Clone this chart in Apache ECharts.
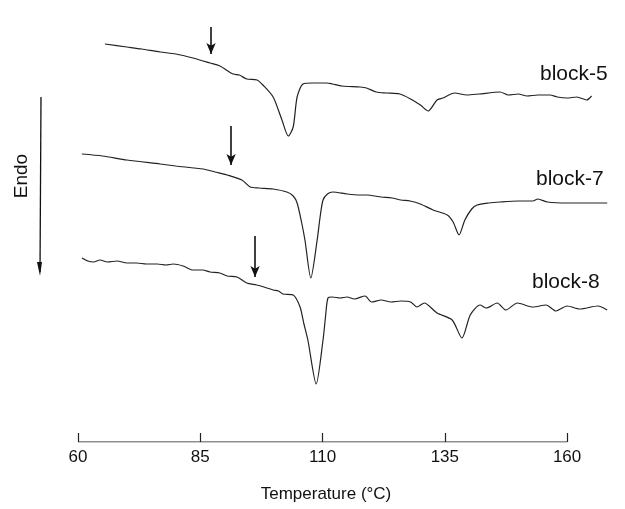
<!DOCTYPE html>
<html><head><meta charset="utf-8">
<script src="https://cdn.jsdelivr.net/npm/echarts@6/dist/echarts.min.js"></script>
<style>html,body{margin:0;padding:0;background:#fff}#c{width:625px;height:509px}</style>
</head><body><div id="c"></div>
<script>
var tickValues = [60, 85, 110, 135, 160];
var seriesNames = ['block-5', 'block-7', 'block-8'];
var block5 = [[65.5,398],[70,395],[73,393],[76.8,390],[80,388],[83.5,384],[87,379],[89,376],[91.7,368],[93,367],[94.5,363],[96.6,362],[97.8,357],[99.9,345],[101.7,322],[103,306],[104,315],[104.8,345],[106,358],[108,359],[110.9,359],[112,358],[114,356],[117.7,355],[119,354],[121,350],[123,349],[125.8,348],[128,343],[130,337],[131.6,331],[133.4,342],[134.6,344],[137,349],[139.5,347],[142,348],[146.3,350],[148,347],[150,348],[151.8,346],[154,347],[156.5,347],[158,345],[160,344],[162,345],[164,342],[165,346]];
var block7 = [[60.8,288],[65,286],[70,282],[76.8,278],[80,276],[85.6,273],[88,270],[90.5,267],[93.5,262],[95.2,255],[97,254],[99.9,253],[102.7,250],[104,246],[104.8,239],[105.7,220],[106.4,202],[107.6,164],[108.9,202],[109.5,225],[110.1,242],[111,248],[112.1,250],[115,248],[117.7,247],[119,247],[122,245],[124.2,244],[126,242],[127.9,241],[130,238],[132.6,232],[135.5,227],[136.7,220],[137.9,207],[139.1,222],[140.5,233],[141.6,237],[144,239],[146.3,240],[150,241],[153,241],[154,243],[156,240],[160,239],[164,239],[168.2,239]];
var block8 = [[60.8,184],[62,181],[63.2,180],[64.5,182],[66,180],[68,181],[70,179],[72,179],[74,178],[76.2,178],[78,177],[79.5,178],[81.5,176],[83.5,172],[85.5,172],[87,170],[89,169],[90.5,166],[92.5,165],[94.5,159],[96.5,157],[98,155],[99.9,152],[101,151],[101.9,148],[104,147],[105.4,135],[106.2,118],[107,102],[108.7,58],[110.1,102],[110.6,125],[111.1,144],[112,145],[113.6,144],[115,145],[116.5,143],[118.7,146],[120,140],[122,142],[124,140],[126,141],[128,140],[129.3,135],[130.8,139],[133.4,129],[136.5,122],[138.5,104],[140.2,127],[142.2,137],[143.5,134],[145.7,139],[147.5,132],[149.8,139],[153,135],[155.7,137],[157.7,131],[160,136],[162.6,133],[166.3,136],[168.2,132]];
var arrows = [[87.2,415,388],[91.3,316,277],[96.2,206,165]];
var axisLineData = [[60,0],[160,0]];

var chart = echarts.init(document.getElementById('c'));
var curves = [block5, block7, block8];
var series = curves.map(function(d, i){
  return {
    name: seriesNames[i], type: 'line', data: d, smooth: 0.25, symbol: 'none',
    lineStyle: {color: '#222', width: 1.2}, animation: false,
    markLine: {
      silent: true, symbol: ['none', 'arrow'], symbolSize: [7, 11],
      label: {show: false},
      lineStyle: {color: '#111', width: 1.6, type: 'solid'},
      data: [[{coord: [arrows[i][0], arrows[i][1]]}, {coord: [arrows[i][0], arrows[i][2]]}]]
    }
  };
});
series.push({type: 'line', data: axisLineData, symbol: 'none', lineStyle: {color: '#222', width: 1.2}, animation: false});

chart.setOption({
  animation: false,
  grid: {left: 78, right: 9, top: 10, bottom: 67},
  xAxis: {
    type: 'value', min: 60, max: 170, interval: 25,
    axisLine: {show: false},
    splitLine: {show: false},
    axisTick: {show: true, inside: true, length: 9, customValues: tickValues, lineStyle: {color: '#222', width: 1.2}},
    axisLabel: {customValues: tickValues, margin: 7, fontSize: 17, color: '#111', fontFamily: 'Liberation Sans'}
  },
  yAxis: {type: 'value', min: 0, max: 432, show: false},
  series: series,
  graphic: [
    {type: 'text', left: 540, top: 64, style: {text: seriesNames[0], font: '21px "Liberation Sans"', fill: '#111'}},
    {type: 'text', left: 536, top: 169, style: {text: seriesNames[1], font: '21px "Liberation Sans"', fill: '#111'}},
    {type: 'text', left: 532, top: 272, style: {text: seriesNames[2], font: '21px "Liberation Sans"', fill: '#111'}},
    {type: 'text', x: 326, y: 494, style: {text: 'Temperature (°C)', font: '17px "Liberation Sans"', fill: '#111', align: 'center', verticalAlign: 'middle'}},
    {type: 'text', x: 22, y: 176, rotation: Math.PI / 2, style: {text: 'Endo', font: '19px "Liberation Sans"', fill: '#111', align: 'center', verticalAlign: 'middle'}},
    {type: 'line', shape: {x1: 41, y1: 97, x2: 40, y2: 272}, style: {stroke: '#111', lineWidth: 1.3}},
    {type: 'polygon', shape: {points: [[37, 262], [42, 262], [40, 276]]}, style: {fill: '#111'}}
  ]
});
</script></body></html>
